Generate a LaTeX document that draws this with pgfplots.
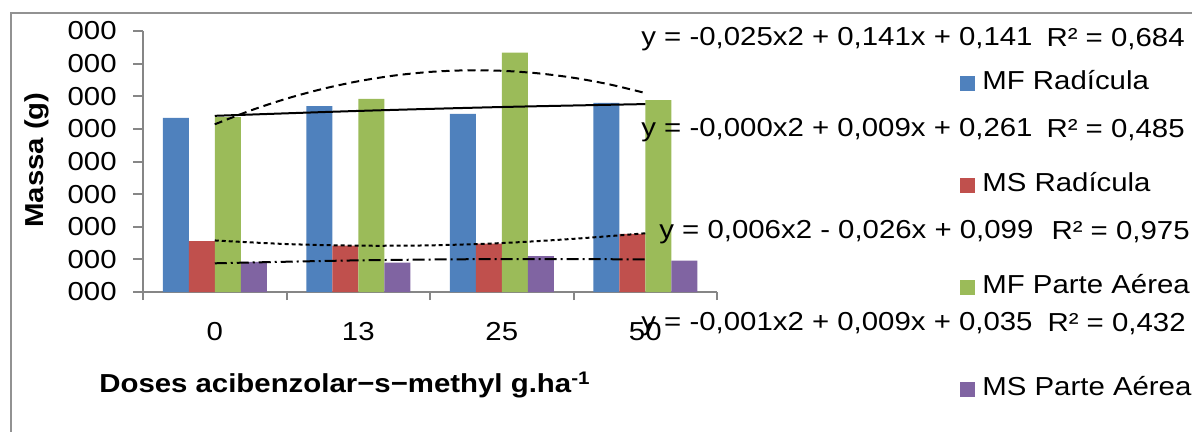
\documentclass[border=0pt]{standalone}
\usepackage{pgfplots}
\pgfplotsset{compat=1.18}
\usepackage{graphicx}
\usepackage{fontspec}
\setmainfont{Liberation Sans}
\definecolor{cblue}{HTML}{4F81BD}
\definecolor{cred}{HTML}{C0504D}
\definecolor{cgreen}{HTML}{9BBB59}
\definecolor{cpurple}{HTML}{8064A2}
\definecolor{axisgray}{HTML}{868686}
\newcommand\sx[1]{\scalebox{1.13}[1]{#1}}
\newcommand\fs{\fontsize{13bp}{15bp}\selectfont}
\pgfplotsset{sq legend/.style={legend image code/.code={\fill[##1] (0bp,-3.75bp) rectangle (7.5bp,3.75bp);}}}
\begin{document}
\begin{tikzpicture}
\begin{scope}[x=0.5bp,y=-0.5bp]
\useasboundingbox (0,0) rectangle (1192,432);
\draw[axisgray!90, line width=1.2bp] (11,13) rectangle (1260,480);
\end{scope}
\begin{axis}[
  at={(71.5bp,-146bp)}, anchor=south west,
  scale only axis, width=287bp, height=130.5bp,
  xmin=-0.5, xmax=3.5, ymin=0, ymax=0.4,
  axis x line*=bottom, axis y line*=left,
  axis line style={draw=axisgray, line width=1bp},
  ytick={0,0.05,0.1,0.15,0.2,0.25,0.3,0.35,0.4},
  yticklabel={\sx{000}},
  xtick={0,1,2,3},
  xticklabels={\sx{0},\sx{13},\sx{25},\sx{50}},
  minor xtick={-0.5,0.5,1.5,2.5,3.5},
  tick align=outside,
  major tick length=5bp, minor tick length=4bp,
  tick style={draw=axisgray, line width=1bp},
  major x tick style={draw=none},
  tick label style={font=\fs, inner sep=0pt},
  yticklabel style={anchor=east, xshift=-8bp},
  xticklabel style={anchor=north, yshift=-10bp},
  clip=false,
  legend style={at={(1.4233,0.8467)}, anchor=north west, draw=none, fill=none,
    inner sep=0pt, row sep=39bp, column sep=3.5bp,
    nodes={inner sep=0pt, font=\fs, text height=9bp, text depth=3bp}},
  legend cell align=left,
]
\addplot[ybar, bar width=13bp, bar shift=-19.5bp, fill=cblue, draw=none, sq legend]
  coordinates {(0,0.267) (1,0.285) (2,0.273) (3,0.290)};
\addlegendentry{\sx{MF Radícula}}
\addplot[ybar, bar width=13bp, bar shift=-6.5bp, fill=cred, draw=none, sq legend]
  coordinates {(0,0.078) (1,0.071) (2,0.074) (3,0.089)};
\addlegendentry{\sx{MS Radícula}}
\addplot[ybar, bar width=13bp, bar shift=6.5bp, fill=cgreen, draw=none, sq legend]
  coordinates {(0,0.268) (1,0.296) (2,0.367) (3,0.294)};
\addlegendentry{\sx{MF Parte Aérea}}
\addplot[ybar, bar width=13bp, bar shift=19.5bp, fill=cpurple, draw=none, sq legend]
  coordinates {(0,0.046) (1,0.045) (2,0.055) (3,0.048)};
\addlegendentry{\sx{MS Parte Aérea}}
% trendlines
\addplot[forget plot, black, line width=1bp, smooth, dash pattern=on 4bp off 2.5bp]
  coordinates {(0,0.257)(0.25,0.2782)(0.5,0.2963)(0.75,0.3112)(1,0.323)(1.25,0.3317)(1.5,0.3373)(1.75,0.3397)(2,0.339)(2.25,0.3352)(2.5,0.3283)(2.75,0.3182)(3,0.305)};
\addplot[forget plot, black, line width=1bp, smooth]
  coordinates {(0,0.270)(1,0.2775)(2,0.2835)(3,0.288)};
\addplot[forget plot, black, line width=1bp, smooth, dash pattern=on 2bp off 1.5bp]
  coordinates {(0,0.079)(0.5,0.0735)(1,0.071)(1.5,0.0715)(2,0.075)(2.5,0.0815)(3,0.090)};
\addplot[forget plot, black, line width=1bp, smooth, dash pattern=on 6bp off 2bp on 1bp off 2bp]
  coordinates {(0,0.044)(1,0.0485)(2,0.0505)(3,0.050)};
\end{axis}
\begin{scope}[x=0.5bp,y=-0.5bp]
\node[rotate=90, font=\fs\bfseries] at (37,160) {\sx{Massa (g)}};
\node[font=\fs\bfseries] at (345,385) {\sx{Doses acibenzolar−s−methyl g.ha\textsuperscript{-1}}};
\node[anchor=west, font=\fs, inner sep=0pt] at (641,39) {\sx{y = -0,025x2 + 0,141x + 0,141}};
\node[anchor=east, font=\fs, inner sep=0pt] at (1185,39) {\sx{R² = 0,684}};
\node[anchor=west, font=\fs, inner sep=0pt] at (641,130) {\sx{y = -0,000x2 + 0,009x + 0,261}};
\node[anchor=east, font=\fs, inner sep=0pt] at (1185,130) {\sx{R² = 0,485}};
\node[anchor=west, font=\fs, inner sep=0pt] at (659,232) {\sx{y = 0,006x2 - 0,026x + 0,099}};
\node[anchor=east, font=\fs, inner sep=0pt] at (1190,232) {\sx{R² = 0,975}};
\node[anchor=west, font=\fs, inner sep=0pt] at (641,324) {\sx{y = -0,001x2 + 0,009x + 0,035}};
\node[anchor=east, font=\fs, inner sep=0pt] at (1186,324) {\sx{R² = 0,432}};
\end{scope}
\end{tikzpicture}
\end{document}
